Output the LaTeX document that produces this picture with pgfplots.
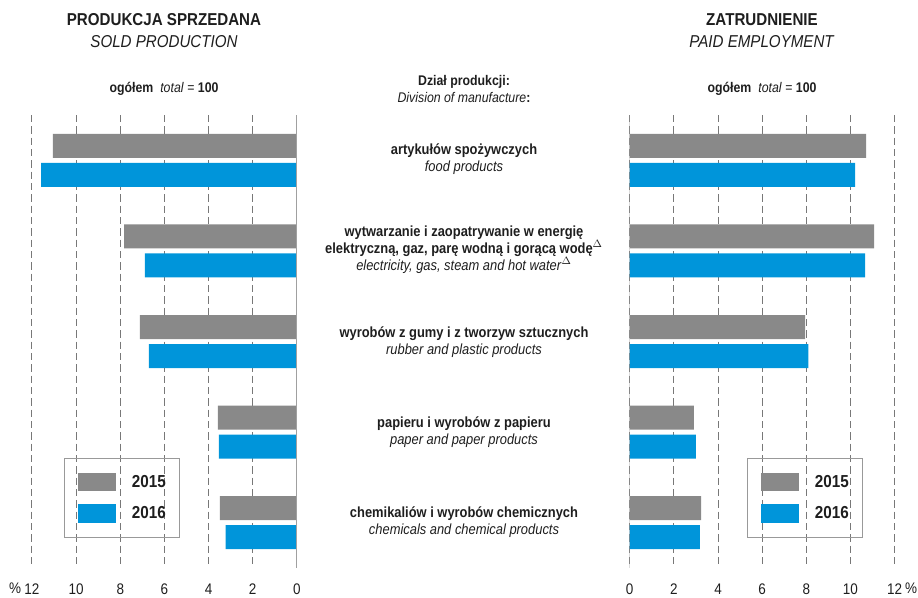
\documentclass[border=0pt]{standalone}
\usepackage{fontspec}
\setmainfont{Liberation Sans}[FakeStretch=0.88]
\usepackage{pgfplots}
\pgfplotsset{compat=1.18}
\definecolor{bgray}{RGB}{137,137,137}
\definecolor{bblue}{RGB}{0,149,218}
\definecolor{txt}{RGB}{30,30,30}
\definecolor{gridc}{RGB}{120,120,120}
\definecolor{zeroc}{RGB}{160,160,160}

\pgfplotsset{
  panel/.style={
    xbar, scale only axis, width=198.6pt, height=339.75pt,
    xmin=0, xmax=12, ymin=-0.5, ymax=4.5, y dir=reverse,
    bar width=0.265,
    axis line style={draw=none}, tick style={draw=none},
    ytick=\empty,
    xtick={0,2,...,12}, xticklabels={0,2,4,6,8,10,12},
    xmajorgrids, grid style={gridc, line width=0.75pt, dash pattern=on 5.5pt off 3pt},
    xticklabel style={font=\fontsize{11.5}{12}\selectfont, text=txt, yshift=-8.5pt},
    legend style={draw=gray!80, line width=0.75pt, fill=none, anchor=north west,
      inner xsep=10pt, inner ysep=10.5pt, row sep=9.75pt, column sep=12pt,
      font=\fontsize{13}{14}\selectfont\bfseries, text=txt, nodes={inner sep=0pt}},
    legend cell align=left,
  }
}

\begin{document}
\begin{tikzpicture}
\useasboundingbox (0,0) rectangle (688.5pt,447.75pt);

% ---------- left panel: sold production ----------
\begin{axis}[panel, x dir=reverse, at={(24pt,21.75pt)}, anchor=south west,
  legend style={at={(0.1208,0.2428)}},
  legend image code/.code={\fill[#1,draw=none] (0pt,-7.1pt) rectangle (28.5pt,7.1pt);}]
\addplot[fill=bgray, draw=none, bar shift=-0.16] coordinates
  {(11.05,0) (7.83,1) (7.11,2) (3.58,3) (3.49,4)};
\addplot[fill=bblue, draw=none, bar shift=0.16] coordinates
  {(11.59,0) (6.88,1) (6.70,2) (3.53,3) (3.22,4)};
\legend{2015,2016}
\draw[zeroc, line width=1.1pt] (axis cs:0,-0.5) -- (axis cs:0,4.5);
\end{axis}

% ---------- right panel: paid employment ----------
\begin{axis}[panel, at={(472.3pt,21.75pt)}, anchor=south west,
  legend style={at={(0.4433,0.2428)}},
  legend image code/.code={\fill[#1,draw=none] (0pt,-7.1pt) rectangle (28.5pt,7.1pt);}]
\addplot[fill=bgray, draw=none, bar shift=-0.16] coordinates
  {(10.71,0) (11.07,1) (7.95,2) (2.91,3) (3.23,4)};
\addplot[fill=bblue, draw=none, bar shift=0.16] coordinates
  {(10.21,0) (10.67,1) (8.09,2) (3.00,3) (3.18,4)};
\legend{2015,2016}
\draw[zeroc, line width=1.1pt] (axis cs:0,-0.5) -- (axis cs:0,4.5);
\end{axis}

% ---------- texts (pixel coordinates, y downward) ----------
\begin{scope}[x=0.75pt, y=-0.75pt, yshift=447.75pt, text=txt]
\node[align=center, font=\fontsize{12.9}{16.5}\selectfont] at (164,31)
  {\textbf{PRODUKCJA SPRZEDANA}\\\textit{SOLD PRODUCTION}};
\node[align=center, font=\fontsize{12.9}{16.5}\selectfont] at (762,31)
  {\textbf{ZATRUDNIENIE}\\\textit{PAID EMPLOYMENT}};
\node[font=\fontsize{10.5}{12}\selectfont] at (164,89)
  {\textbf{ogółem}\enspace\textit{total} = \textbf{100}};
\node[font=\fontsize{10.5}{12}\selectfont] at (762,89)
  {\textbf{ogółem}\enspace\textit{total} = \textbf{100}};
\node[align=center, font=\fontsize{10.5}{12.75}\selectfont] at (464,88.5)
  {\textbf{Dział produkcji:}\\\textit{Division of manufacture}\textbf{:}};

\node[align=center, font=\fontsize{11}{12.75}\selectfont] at (464,159.5)
  {\textbf{artykułów spożywczych}\\\textit{food products}};
\node[align=center, font=\fontsize{11}{12.75}\selectfont] at (464,249.5)
  {\textbf{wytwarzanie i zaopatrywanie w energię}\\
   \textbf{elektryczną, gaz, parę wodną i gorącą wodę}$^{\Delta}$\\
   \textit{electricity, gas, steam and hot water}$^{\Delta}$};
\node[align=center, font=\fontsize{11}{12.75}\selectfont] at (464,342)
  {\textbf{wyrobów z gumy i z tworzyw sztucznych}\\\textit{rubber and plastic products}};
\node[align=center, font=\fontsize{11}{12.75}\selectfont] at (464,432.5)
  {\textbf{papieru i wyrobów z papieru}\\\textit{paper and paper products}};
\node[align=center, font=\fontsize{11}{12.75}\selectfont] at (464,522.5)
  {\textbf{chemikaliów i wyrobów chemicznych}\\\textit{chemicals and chemical products}};

\node[font=\fontsize{11.5}{12}\selectfont] at (15,588) {\%};
\node[font=\fontsize{11.5}{12}\selectfont] at (911,588) {\%};
\end{scope}
\end{tikzpicture}
\end{document}
